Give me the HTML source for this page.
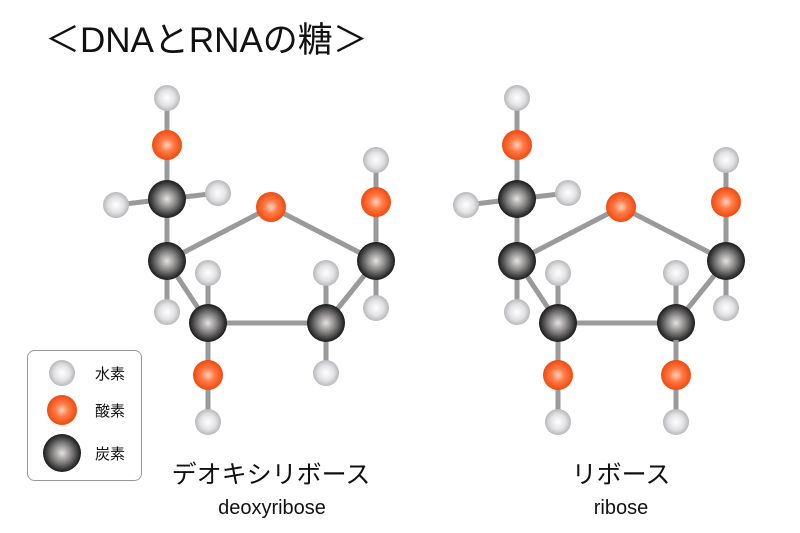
<!DOCTYPE html>
<html><head><meta charset="utf-8"><style>
html,body{margin:0;padding:0;background:#fff;}
svg{display:block;}
text{font-family:"Liberation Sans","Noto Sans CJK JP",sans-serif;fill:#111;}
</style></head><body>
<svg width="800" height="533" viewBox="0 0 800 533" xmlns="http://www.w3.org/2000/svg">
<defs>
<radialGradient id="gH" cx="50%" cy="50%" r="50%"><stop offset="0" stop-color="#ffffff"/><stop offset="0.6" stop-color="#e2e2e4"/><stop offset="1" stop-color="#b8b8bc"/></radialGradient>
<radialGradient id="gO" cx="50%" cy="50%" r="50%"><stop offset="0" stop-color="#ffd2bf"/><stop offset="0.45" stop-color="#ff7a45"/><stop offset="1" stop-color="#f04a10"/></radialGradient>
<radialGradient id="gC" cx="50%" cy="50%" r="50%"><stop offset="0" stop-color="#e6e2e2"/><stop offset="0.55" stop-color="#7a7878"/><stop offset="1" stop-color="#1a1a1a"/></radialGradient>
<g id="mol">
 <g stroke="#9a9a9a" stroke-width="5" fill="none">
  <line x1="167" y1="98" x2="167" y2="261"/>
  <line x1="116" y1="205" x2="167" y2="199"/>
  <line x1="218" y1="193" x2="167" y2="199"/>
  <line x1="167" y1="261" x2="271" y2="207"/>
  <line x1="271" y1="207" x2="376" y2="261"/>
  <line x1="376" y1="160" x2="376" y2="308"/>
  <line x1="167" y1="261" x2="208" y2="323"/>
  <line x1="167" y1="261" x2="167" y2="312"/>
  <line x1="208" y1="323" x2="326" y2="323"/>
  <line x1="326" y1="323" x2="376" y2="261"/>
  <line x1="208" y1="273" x2="208" y2="422"/>
  <line x1="326" y1="273" x2="326" y2="373"/>
 </g>
 <circle cx="167" cy="98" r="13" fill="url(#gH)"/>
 <circle cx="167" cy="145" r="15" fill="url(#gO)"/>
 <circle cx="116" cy="205" r="13" fill="url(#gH)"/>
 <circle cx="218" cy="193" r="13" fill="url(#gH)"/>
 <circle cx="167" cy="199" r="19" fill="url(#gC)"/>
 <circle cx="167" cy="312" r="13" fill="url(#gH)"/>
 <circle cx="167" cy="261" r="19" fill="url(#gC)"/>
 <circle cx="271" cy="207" r="15" fill="url(#gO)"/>
 <circle cx="376" cy="160" r="13" fill="url(#gH)"/>
 <circle cx="376" cy="202" r="15" fill="url(#gO)"/>
 <circle cx="376" cy="308" r="13" fill="url(#gH)"/>
 <circle cx="376" cy="261" r="19" fill="url(#gC)"/>
 <circle cx="208" cy="273" r="13" fill="url(#gH)"/>
 <circle cx="208" cy="375" r="15" fill="url(#gO)"/>
 <circle cx="208" cy="422" r="13" fill="url(#gH)"/>
 <circle cx="208" cy="323" r="19" fill="url(#gC)"/>
 <circle cx="326" cy="273" r="13" fill="url(#gH)"/>
 <circle cx="326" cy="323" r="19" fill="url(#gC)"/>
</g>
</defs>
<text x="45" y="52" font-size="35">＜DNAとRNAの糖＞</text>

<use href="#mol"/>
<circle cx="326" cy="373" r="13" fill="url(#gH)"/>

<g transform="translate(350,0)">
 <use href="#mol"/>
 <line x1="326" y1="340" x2="326" y2="422" stroke="#9a9a9a" stroke-width="5"/>
 <circle cx="326" cy="375" r="15" fill="url(#gO)"/>
 <circle cx="326" cy="422" r="13" fill="url(#gH)"/>
</g>

<rect x="27.5" y="350.5" width="114" height="130" rx="7" fill="#fff" stroke="#999" stroke-width="1"/>
<circle cx="62" cy="373" r="13" fill="url(#gH)"/>
<circle cx="62" cy="410" r="15" fill="url(#gO)"/>
<circle cx="62" cy="453" r="19" fill="url(#gC)"/>
<text x="95" y="379" font-size="15">水素</text>
<text x="95" y="416" font-size="15">酸素</text>
<text x="95" y="459" font-size="15">炭素</text>

<text x="271" y="483" font-size="25" text-anchor="middle">デオキシリボース</text>
<text x="272" y="514" font-size="20" text-anchor="middle">deoxyribose</text>
<text x="621" y="483" font-size="25" text-anchor="middle">リボース</text>
<text x="621" y="514" font-size="20" text-anchor="middle">ribose</text>
</svg>
</body></html>
